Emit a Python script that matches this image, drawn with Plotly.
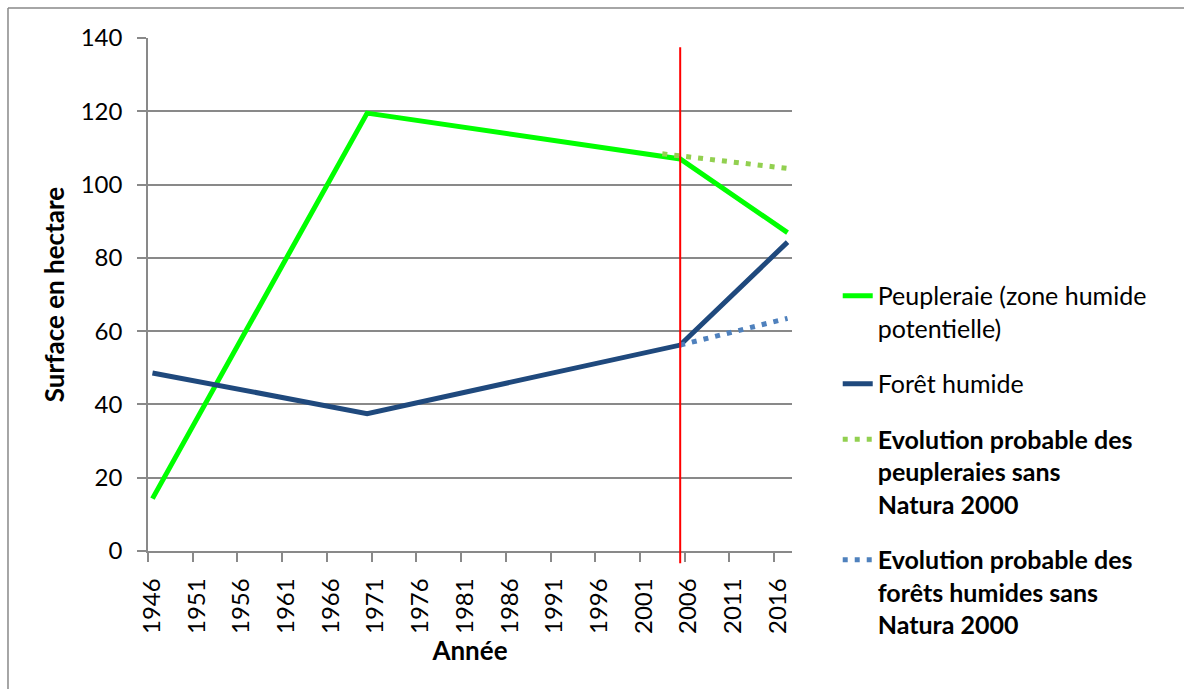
import plotly.graph_objects as go

# données (surface en hectares)
annees = [1946, 1970, 2005, 2017]
peupleraie = [14.3, 119.5, 107.0, 86.9]
foret_humide = [48.6, 37.5, 56.2, 84.3]

annees_proj_peup = [2003, 2017]
proj_peupleraie = [108.4, 104.4]
annees_proj_foret = [2005, 2017]
proj_foret = [56.2, 63.5]

annee_natura = 2005

tick_annees = list(range(1946, 2017, 5))

FONT = "Lato"
GRIS = "#898989"

fig = go.Figure()

fig.add_trace(go.Scatter(
    x=annees, y=peupleraie, mode="lines",
    name="Peupleraie (zone humide<br>potentielle)",
    line=dict(color="#00ff00", width=5),
    legendgroup="a",
))
fig.add_trace(go.Scatter(
    x=annees, y=foret_humide, mode="lines",
    name="Forêt humide",
    line=dict(color="#1f497d", width=5),
    legendgroup="b",
))
fig.add_trace(go.Scatter(
    x=annees_proj_peup, y=proj_peupleraie, mode="lines",
    name="<b>Evolution probable des<br>peupleraies sans<br>Natura 2000</b>",
    line=dict(color="#92d050", width=5, dash="5px,7px"),
    legendgroup="c",
))
fig.add_trace(go.Scatter(
    x=annees_proj_foret, y=proj_foret, mode="lines",
    name="<b>Evolution probable des<br>forêts humides sans<br>Natura 2000</b>",
    line=dict(color="#4f81bd", width=5, dash="5px,7px"),
    legendgroup="d",
))

# ligne verticale Natura 2000
fig.add_shape(
    type="line", xref="x", yref="paper",
    x0=annee_natura, x1=annee_natura, y0=-0.024, y1=0.982,
    line=dict(color="#ff0000", width=2),
)

# cadre du graphique : seuls les bords haut et gauche sont visibles
fig.add_shape(
    type="line", xref="paper", yref="paper",
    x0=-0.2174, x1=1.8, y0=1.0585, y1=1.0585,
    line=dict(color=GRIS, width=1.5),
)
fig.add_shape(
    type="line", xref="paper", yref="paper",
    x0=-0.2174, x1=-0.2174, y0=-0.4, y1=1.0585,
    line=dict(color=GRIS, width=1.5),
)

fig.update_layout(
    width=1184, height=689,
    margin=dict(l=148, r=392, t=38, b=138),
    plot_bgcolor="white",
    paper_bgcolor="white",
    font=dict(family=FONT, size=22, color="black"),
    xaxis=dict(
        range=[1945.5, 2017.5],
        tickvals=[a - 0.5 for a in tick_annees],
        ticktext=[str(a) for a in tick_annees],
        tickangle=-90,
        tickfont=dict(size=24),
        ticklabelshift=4,
        ticklabelstandoff=7,
        ticks="outside", ticklen=9, tickcolor=GRIS, tickwidth=1.5,
        showgrid=False, zeroline=False,
        showline=True, linecolor=GRIS, linewidth=1.5,
        title=dict(text="<b>Année</b>", standoff=1),
    ),
    yaxis=dict(
        range=[0, 140], dtick=20,
        tickfont=dict(size=24),
        ticks="outside", ticklen=9, tickcolor=GRIS, tickwidth=1.5,
        ticklabelstandoff=10,
        showgrid=True, gridcolor=GRIS, gridwidth=1.5,
        zeroline=False,
        showline=True, linecolor=GRIS, linewidth=1.5,
        title=dict(text="<b>Surface en hectare</b>", standoff=9),
    ),
    legend=dict(
        x=1.071, y=0.542, xanchor="left", yanchor="top",
        valign="top", tracegroupgap=20,
        font=dict(size=25),
    ),
    showlegend=True,
)

fig.write_html(
    "out.html",
    config={"displayModeBar": False},
    post_script="document.body.style.margin = '0';",
)
